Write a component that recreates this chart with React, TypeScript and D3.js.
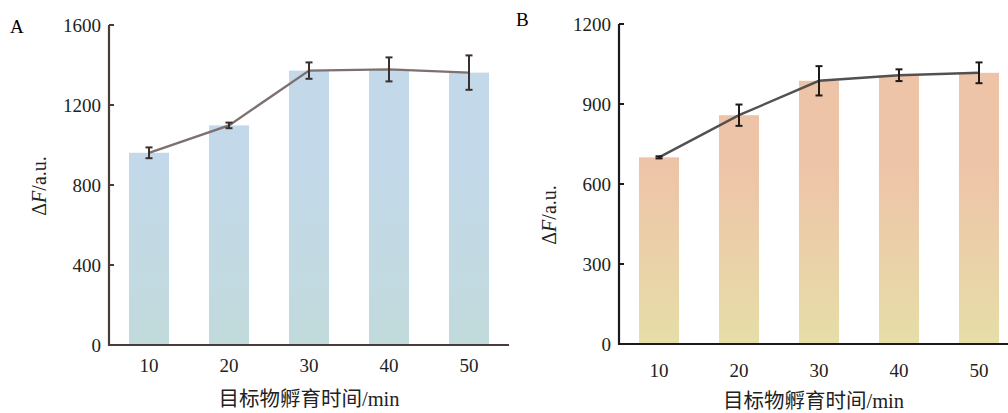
import React from 'react';
import * as d3 from 'd3';

// incubation times (min)
const times = ['10', '20', '30', '40', '50'];

// panel A
const meanA = [961, 1098, 1372, 1378, 1362];
const errA = [27, 14, 41, 60, 86];
const ticksA = [0, 400, 800, 1200, 1600];

// panel B
const meanB = [700, 858, 987, 1008, 1017];
const errB = [4, 40, 55, 22, 39];
const ticksB = [0, 300, 600, 900, 1200];

const FONT = '"Liberation Serif", "Times New Roman", "Noto Sans CJK SC", serif';
const xTitle = '目标物孵育时间/min';

type PanelProps = {
  id: string;
  letter: string;
  means: number[];
  errs: number[];
  ticks: number[];
  x0: number;
  x1: number;
  axisEnd: number;
  yTop: number;
  yBottom: number;
  colTop: string;
  colBottom: string;
  lineColor: string;
  errColor: string;
  axisColor: string;
  letterPos: [number, number];
  yLabelPos: [number, number];
  tickLabelY: number;
  titleY: number;
};

function Panel(p: PanelProps) {
  const x = d3.scaleBand()
    .domain(times)
    .range([p.x0, p.x1])
    .paddingInner(0.5)
    .paddingOuter(0.25);
  const y = d3.scaleLinear()
    .domain([0, p.ticks[p.ticks.length - 1]])
    .range([p.yBottom, p.yTop]);
  const bw = x.bandwidth();
  const cx = (t: string) => (x(t) || 0) + bw / 2;

  const line = d3.line<number>()
    .x((d, i) => cx(times[i]))
    .y(d => y(d));

  const gid = 'grad' + p.id;
  const midX = (p.x0 + p.axisEnd) / 2;

  return (
    <g>
      <defs>
        <linearGradient id={gid} gradientUnits="userSpaceOnUse" x1="0" x2="0" y1={p.yTop} y2={p.yBottom}>
          <stop offset="0" stopColor={p.colTop} />
          <stop offset="0.45" stopColor={p.colTop} />
          <stop offset="1" stopColor={p.colBottom} />
        </linearGradient>
      </defs>
      <text x={p.letterPos[0]} y={p.letterPos[1]} fontSize={19} fontFamily={FONT}>{p.letter}</text>

      {p.means.map((d, i) => (
        <rect
          key={i}
          x={x(times[i])}
          y={y(d)}
          width={bw}
          height={y(0) - y(d)}
          fill={`url(#${gid})`}
        />
      ))}

      <path d={line(p.means) || ''} fill="none" stroke={p.lineColor} strokeWidth={2.4} />

      {p.means.map((d, i) => {
        const c = cx(times[i]);
        const hi = y(d + p.errs[i]);
        const lo = y(d - p.errs[i]);
        return (
          <g key={i} stroke={p.errColor} strokeWidth={2}>
            <line x1={c} x2={c} y1={hi} y2={lo} />
            <line x1={c - 3.5} x2={c + 3.5} y1={hi} y2={hi} />
            <line x1={c - 3.5} x2={c + 3.5} y1={lo} y2={lo} />
          </g>
        );
      })}

      {/* axes */}
      <line x1={p.x0} x2={p.x0} y1={p.yTop} y2={p.yBottom + 1} stroke={p.axisColor} strokeWidth={2.2} />
      <line x1={p.x0 - 1} x2={p.axisEnd} y1={p.yBottom} y2={p.yBottom} stroke={p.axisColor} strokeWidth={2.2} />
      {p.ticks.map(t => (
        <g key={t}>
          {t > 0 && (
            <line x1={p.x0} x2={p.x0 + 5} y1={y(t)} y2={y(t)} stroke={p.axisColor} strokeWidth={2} />
          )}
          <text
            x={p.x0 - 8}
            y={y(t)}
            dy="0.35em"
            textAnchor="end"
            fontSize={19}
            fontFamily={FONT}
            fill="#222"
          >
            {t}
          </text>
        </g>
      ))}
      {times.map(t => (
        <text
          key={t}
          x={cx(t)}
          y={p.tickLabelY}
          textAnchor="middle"
          fontSize={19}
          fontFamily={FONT}
          fill="#222"
        >
          {t}
        </text>
      ))}

      <text
        transform={`translate(${p.yLabelPos[0]},${p.yLabelPos[1]}) rotate(-90)`}
        textAnchor="middle"
        fontSize={20}
        fontFamily={FONT}
        fill="#222"
      >
        Δ<tspan fontStyle="italic">F</tspan>/a.u.
      </text>
      <text
        x={midX}
        y={p.titleY}
        textAnchor="middle"
        fontSize={20.5}
        fontFamily={FONT}
        fill="#222"
      >
        {xTitle}
      </text>
    </g>
  );
}

export default function App() {
  return (
    <svg
      width={1008}
      height={413}
      style={{ position: 'absolute', left: 0, top: 0, background: '#fff' }}
    >
      <Panel
        id="A"
        letter="A"
        means={meanA}
        errs={errA}
        ticks={ticksA}
        x0={109}
        x1={509}
        axisEnd={509}
        yTop={25}
        yBottom={345}
        colTop="#c3d9ea"
        colBottom="#c1dadb"
        lineColor="#7d7070"
        errColor="#3a302e"
        axisColor="#4a3d39"
        letterPos={[10, 33]}
        yLabelPos={[46, 186]}
        tickLabelY={372}
        titleY={406}
      />
      <Panel
        id="B"
        letter="B"
        means={meanB}
        errs={errB}
        ticks={ticksB}
        x0={619}
        x1={1019}
        axisEnd={1008}
        yTop={24}
        yBottom={344}
        colTop="#eec4a8"
        colBottom="#e6dea8"
        lineColor="#555050"
        errColor="#1e1a1a"
        axisColor="#1e1a1a"
        letterPos={[516, 26]}
        yLabelPos={[556, 215]}
        tickLabelY={377}
        titleY={408}
      />
    </svg>
  );
}
